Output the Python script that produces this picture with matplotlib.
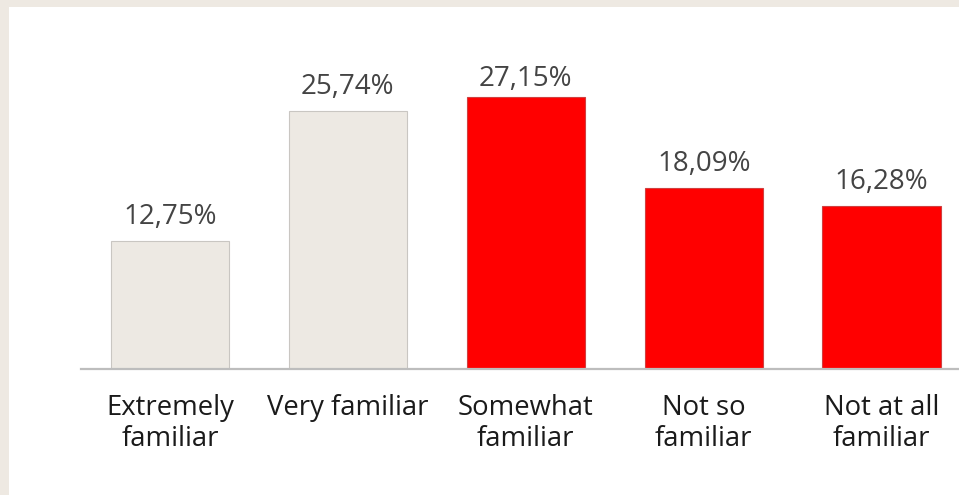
import matplotlib.pyplot as plt
from matplotlib.patches import Rectangle

# familiarity survey
categories = ['Extremely\nfamiliar', 'Very familiar', 'Somewhat\nfamiliar',
              'Not so\nfamiliar', 'Not at all\nfamiliar']
values = [12.75, 25.74, 27.15, 18.09, 16.28]
bar_colors = ['#ede9e3', '#ede9e3', '#ff0000', '#ff0000', '#ff0000']
edge_colors = ['#c9c6c2', '#c9c6c2', '#d04040', '#d04040', '#d04040']

plt.rcParams['font.family'] = ['Open Sans', 'DejaVu Sans']

fig = plt.figure(figsize=(9.59, 4.95), dpi=100)
fig.patch.set_facecolor('#eee9e2')
# white panel inside the beige frame
fig.patches.append(Rectangle((9 / 959, 0), 1, 1 - 7 / 495, transform=fig.transFigure,
                             facecolor='white', edgecolor='none', zorder=-1))

ax = fig.add_axes([81 / 959, 126 / 495, 1 - 81 / 959, (369 - 7) / 495])
ax.set_facecolor('none')
ax.set_zorder(2)

x = range(len(values))
bars = ax.bar(x, values, width=0.665, color=bar_colors, edgecolor=edge_colors, linewidth=0.8)

# value labels sit above each bar, but get squeezed down near the top of the plot
label_ceiling = 26.55
for b, v in zip(bars, values):
    label = f'{v:.2f}%'.replace('.', ',')
    ax.annotate(label, (b.get_x() + b.get_width() / 2, min(v, label_ceiling)), xytext=(0, 7),
                textcoords='offset points', ha='center', va='bottom',
                fontsize=20, color='#444444')

ax.set_xlim(-0.5, 4.435)
ax.set_ylim(0, 36.1)
ax.set_xticks(list(x))
ax.set_xticklabels(categories, fontsize=19.8, color='#1a1a1a', linespacing=1.14)
ax.tick_params(axis='x', length=0, pad=18)
ax.set_yticks([])
for s in ['top', 'right', 'left']:
    ax.spines[s].set_visible(False)
ax.spines['bottom'].set_color('#bdbdbd')
ax.spines['bottom'].set_linewidth(1.6)

fig.savefig('out.png', dpi=100, facecolor=fig.get_facecolor())
